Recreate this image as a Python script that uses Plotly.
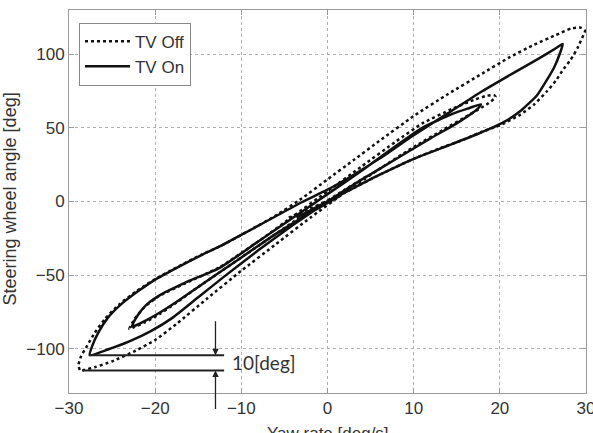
import plotly.graph_objects as go

# ---------------- data ----------------
# TV On (solid): yaw rate [deg/s] and steering wheel angle [deg], one continuous run
on_yaw = [1.5, 0, -3, -6, -9, -12, -15, -17.5, -19.5, -21, -22.2, -22.7,
          -22.5, -22.0, -21.0, -19.3, -16.5, -12.5, -8, -4, 0, 4, 8, 11, 14.5, 16.5, 17.8,
          17.6, 16.8, 15, 12, 8, 4, 0, -4, -8, -12, -15, -18, -20.5, -23, -25.5, -27.6,
          -27.3, -26.6, -25.5, -24, -22, -20, -17.5, -14.5, -12.5, -9, -6, -3, 0, 3, 6, 10, 14, 18,
          21.5, 24.5, 26.5, 27.3,
          27.0, 26.3, 25.3, 24.3, 22.5, 20.5, 17.5, 14, 10, 6, 2, -1, -3.6]
on_steer = [4, -1, -11, -22, -34, -46, -58, -68, -75.5, -80.5, -84, -85,
            -82, -77, -70, -63, -55, -45, -27, -11, 5, 21, 38, 50, 59.5, 63.5, 66,
            64, 60, 53, 43, 29, 15, 0, -16, -33, -51, -65, -79, -88, -95, -100.5, -104.3,
            -98, -89, -79, -70, -61, -53, -45, -36, -30.5, -19.5, -10, -0.5, 8, 18, 29, 45, 60, 75,
            87, 97, 104, 107,
            101, 91, 81, 72, 62, 54, 46, 38, 29, 18, 6, -3, -11]

# TV Off (dotted)
off_yaw = [4.5, 2, -1, -4, -8, -12, -15, -17.5, -19.5, -21.2, -22.5, -23,
           -22.8, -22.3, -21.3, -19.5, -16.5, -12.5, -8, -4, 0, 4, 8, 11, 14.5, 17, 18.5, 19.3, 19.5,
           19.3, 18.5, 16.5, 13.5, 10, 6, 2, -2, -6, -10, -14, -17.5, -20, -22.5, -25, -27, -28.2, -28.7,
           -28.9, -28.6, -27.9, -27, -25.8, -24.2, -22.2, -20.1, -17.6, -14.6, -12.5, -9, -6, -3, 0, 3,
           6, 10, 14, 18, 21, 24, 26.5, 28.3, 29.4, 29.9, 29.7,
           29.0, 28.2, 27.4, 26.5, 25.5, 24, 22.4, 20.1, 18, 15.8, 13, 10, 6, 2, 0, -2.5, -4.5]
off_steer = [17, 8, -3, -14, -30, -46, -58, -68.5, -76.5, -82, -85.5, -86.5,
             -84, -79, -72, -64, -55.5, -44.5, -27, -10, 7, 24, 41, 53, 63, 69, 71.8, 72.3, 71,
             69.5, 66, 59, 49, 37, 22, 6, -11, -29, -47, -66, -83, -94, -102, -108.5, -112.5, -114.3, -114.8,
             -111, -105, -98, -89, -79.5, -70, -61, -53, -45, -36, -30.5, -19.5, -9.5, 2, 15, 28,
             41, 58, 73, 87, 97.5, 106.5, 113, 117.5, 118, 116, 113,
             104, 96, 90, 82, 75, 66, 59, 52, 47.5, 42, 36, 29, 18, 6, 0.5, -6, -11]

series_names = ["TV Off", "TV On"]
x_ticks = [-30, -20, -10, 0, 10, 20, 30]
y_ticks = [-100, -50, 0, 50, 100]
x_title = "Yaw rate [deg/s]"
y_title = "Steering wheel angle [deg]"
diff_label = "10[deg]"
arrow_x = -13.0          # x position of the two dimension arrows
line_x_end = -12.0       # right end of the two dimension lines

# ---------------- figure ----------------
fig = go.Figure()
fig.add_trace(go.Scatter(x=off_yaw, y=off_steer, mode="lines", name=series_names[0],
                         line=dict(color="#111111", width=2.5, dash="dot",
                                   shape="spline", smoothing=0.5)))
fig.add_trace(go.Scatter(x=on_yaw, y=on_steer, mode="lines", name=series_names[1],
                         line=dict(color="#111111", width=2.5,
                                   shape="spline", smoothing=0.5)))

min_on = min(on_steer)
min_off = min(off_steer)

# dimension lines at the minimum of each run
fig.add_shape(type="line", x0=min(on_yaw), x1=line_x_end, y0=min_on, y1=min_on,
              line=dict(color="#222222", width=2))
fig.add_shape(type="line", x0=min(off_yaw) + 0.4, x1=line_x_end, y0=min_off, y1=min_off,
              line=dict(color="#222222", width=2))
# arrows
fig.add_annotation(x=arrow_x, y=min_on, ax=arrow_x, ay=min_on + 24, xref="x", yref="y",
                   axref="x", ayref="y", showarrow=True, arrowhead=2, arrowsize=1,
                   arrowwidth=1.3, arrowcolor="#222222", text="")
fig.add_annotation(x=arrow_x, y=min_off, ax=arrow_x, ay=min_off - 27, xref="x", yref="y",
                   axref="x", ayref="y", showarrow=True, arrowhead=2, arrowsize=1,
                   arrowwidth=1.3, arrowcolor="#222222", text="")
fig.add_annotation(x=-11.3, y=(min_on + min_off) / 2, xref="x", yref="y", text=diff_label,
                   showarrow=False, xanchor="left", yanchor="middle",
                   font=dict(family="Lato, Carlito, sans-serif", size=19, color="#333333"))

# axis titles
fig.add_annotation(x=0.5, y=0, xref="paper", yref="paper", yshift=-29, text=x_title,
                   showarrow=False, xanchor="center", yanchor="top",
                   font=dict(family="Liberation Sans, Arial", size=17, color="#333333"))
fig.add_annotation(x=0, y=0.5, xref="paper", yref="paper", xshift=-60, yshift=2, text=y_title,
                   showarrow=False, textangle=-90, xanchor="center", yanchor="middle",
                   font=dict(family="Liberation Sans, Arial", size=18, color="#333333"))

axis_common = dict(showgrid=True, gridcolor="#b0b0b0", griddash="dot", gridwidth=1,
                   zeroline=False, showline=True, linecolor="#9a9a9a", linewidth=1,
                   mirror="ticks", ticks="inside", ticklen=5, tickcolor="#9a9a9a",
                   ticklabeloverflow="allow", automargin=False,
                   tickfont=dict(family="Liberation Sans, Arial", size=17, color="#333333"))

fig.update_layout(
    width=593, height=433,
    margin=dict(l=69, r=7, t=10, b=40, autoexpand=False),
    paper_bgcolor="white", plot_bgcolor="white",
    xaxis=dict(range=[-30, 30], tickvals=x_ticks, **axis_common),
    yaxis=dict(range=[-130, 130], tickvals=y_ticks, **axis_common),
    legend=dict(x=0.0193, y=0.967, xanchor="left", yanchor="top",
                bgcolor="white", bordercolor="#888888", borderwidth=1,
                font=dict(family="Liberation Sans, Arial", size=17, color="#333333"),
                itemwidth=45, tracegroupgap=0),
    showlegend=True,
)

fig.write_html("out.html")
